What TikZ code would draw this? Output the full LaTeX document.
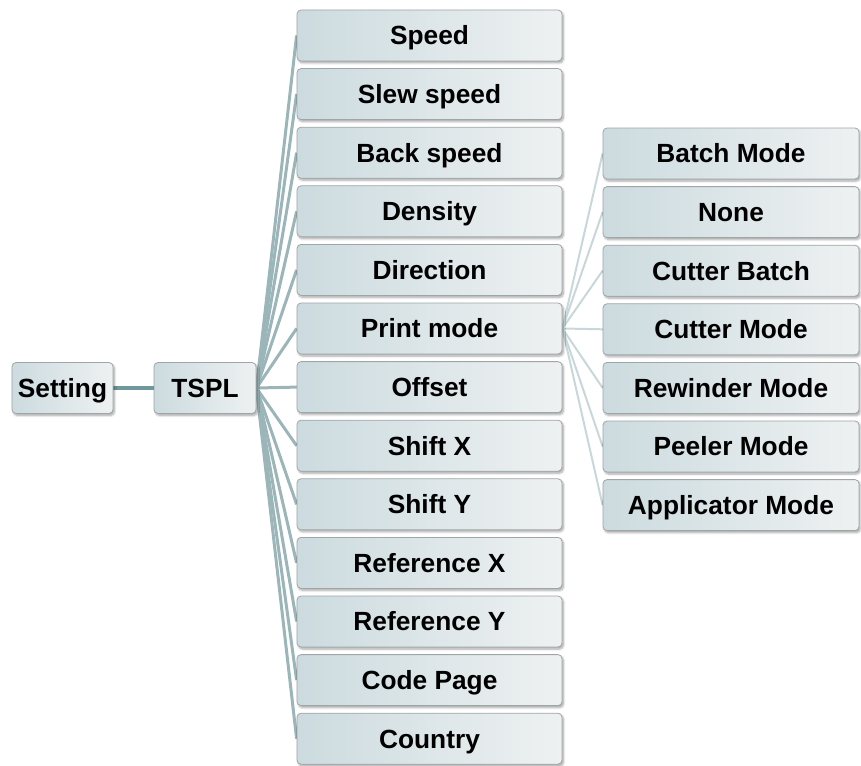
\documentclass[tikz,border=0pt]{standalone}
\usepackage{fontspec}
\setmainfont{Liberation Sans}
\usetikzlibrary{backgrounds,shadows.blur}
\definecolor{boxL}{RGB}{204,219,223}
\definecolor{boxR}{RGB}{238,241,242}
\definecolor{boxB}{RGB}{158,166,168}
\definecolor{lnA}{RGB}{111,152,157}
\definecolor{lnB}{RGB}{155,181,185}
\definecolor{lnC}{RGB}{200,216,218}
\tikzset{
  box/.style={draw=boxB, line width=0.8pt, rounded corners=4pt,
    left color=boxL, right color=boxR, inner sep=0pt,
    minimum height=51pt, text height=18.8pt, text depth=0pt,
    font=\fontsize{26.3}{30}\selectfont\bfseries,
    blur shadow={shadow blur steps=6, shadow xshift=1.5pt, shadow yshift=-2pt, shadow opacity=35}},
  midbox/.style={box, minimum width=265pt},
  rbox/.style={box, minimum width=256pt},
  lnmain/.style={lnA, line width=3.5pt},
  lnmid/.style={lnB, line width=3pt},
  lnright/.style={lnC, line width=2pt}
}
\begin{document}
\begin{tikzpicture}[x=1pt,y=-1pt]
\useasboundingbox (0,0) rectangle (861,765);
\node[box, minimum width=101pt] (setting) at (62.5,388) {Setting};
\node[box, minimum width=102pt] (tspl) at (205,388) {TSPL};
\foreach \t [count=\i from 0] in {Speed,Slew speed,Back speed,Density,Direction,Print mode,Offset,Shift X,Shift Y,Reference X,Reference Y,Code Page,Country}{
  \node[midbox] (m\i) at (429.5,{35.5+\i*58.6}) {\t};
}
\foreach \t [count=\j from 0] in {Batch Mode,None,Cutter Batch,Cutter Mode,Rewinder Mode,Peeler Mode,Applicator Mode}{
  \node[rbox] (r\j) at (731,{153.5+\j*58.6}) {\t};
}
\begin{pgfonlayer}{background}
\draw[lnmain] (setting.east) -- (tspl.west);
\foreach \i in {0,...,12}{
  \draw[lnmid] (tspl.east) -- (m\i.west);
}
\foreach \j in {0,...,6}{
  \draw[lnright] (m5.east) -- (r\j.west);
}
\end{pgfonlayer}
\end{tikzpicture}
\end{document}
